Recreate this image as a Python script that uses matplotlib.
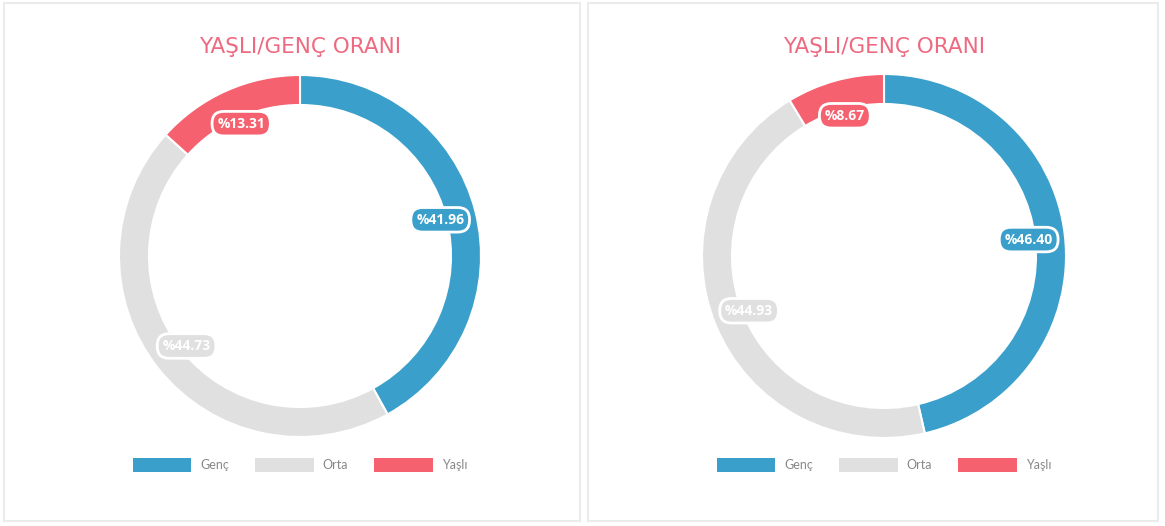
import numpy as np
import matplotlib
matplotlib.use("Agg")
import matplotlib.pyplot as plt
from matplotlib.patches import Rectangle, Patch

W, H = 1165, 526

categories = ["Genç", "Orta", "Yaşlı"]
left_values = [41.96, 44.73, 13.31]
right_values = [46.40, 44.93, 8.67]
title_text = "YAŞLI/GENÇ ORANI"

colors = ["#3aa0cb", "#e0e0e0", "#f5616f"]
title_color = "#ee6a80"

plt.rcParams['font.family'] = ['Lato', 'DejaVu Sans']

fig = plt.figure(figsize=(W / 100, H / 100), dpi=100)
fig.patch.set_facecolor("white")


def px_axes(cx, cy, r):
    return fig.add_axes([(cx - r) / W, (H - cy - r) / H, 2 * r / W, 2 * r / H])


def panel(x0, y0, x1, y1):
    fig.patches.append(Rectangle((x0 / W, 1 - y1 / H), (x1 - x0) / W, (y1 - y0) / H,
                                 transform=fig.transFigure, fill=False,
                                 edgecolor="#ebebeb", linewidth=1.5))


def donut(cx, cy, r, values):
    ax = px_axes(cx, cy, r)
    width = 30 / r
    wedges, _ = ax.pie(values, colors=colors, startangle=90, counterclock=False,
                       radius=1, wedgeprops=dict(width=width, edgecolor="white", linewidth=1.5))
    ax.set_xlim(-1, 1)
    ax.set_ylim(-1, 1)
    ax.set_aspect("equal")
    ax.axis("off")
    for w, v, c in zip(wedges, values, colors):
        ang = np.deg2rad((w.theta1 + w.theta2) / 2)
        rr = 0.8
        ax.text(rr * np.cos(ang), rr * np.sin(ang), "%" + f"{v:.2f}",
                ha="center", va="center", color="white", fontsize=10, fontweight="bold",
                family=["Open Sans", "DejaVu Sans"],
                bbox=dict(boxstyle="round,pad=0.38,rounding_size=0.85", facecolor=c,
                          edgecolor="white", linewidth=2), zorder=5)
    return ax


def title_and_legend(cx):
    fig.text(cx / W, 1 - 47 / H, title_text, ha="center", va="center",
             color=title_color, fontsize=15.5, family=["DejaVu Sans"])
    handles = [Patch(facecolor=c, edgecolor="none") for c in colors]
    leg = fig.legend(handles, categories, loc="center", bbox_to_anchor=(cx / W, 1 - 465 / H),
                     ncol=3, frameon=False, fontsize=9, handlelength=4.7, handleheight=1.4,
                     handletextpad=0.7, columnspacing=2.1)
    for t in leg.get_texts():
        t.set_color("#888888")


panel(4, 3, 580, 521)
panel(588, 3, 1158, 521)

donut(300, 256, 181, left_values)
donut(884, 256, 182, right_values)
title_and_legend(300)
title_and_legend(884)

fig.savefig("out.png", dpi=100, facecolor="white")
